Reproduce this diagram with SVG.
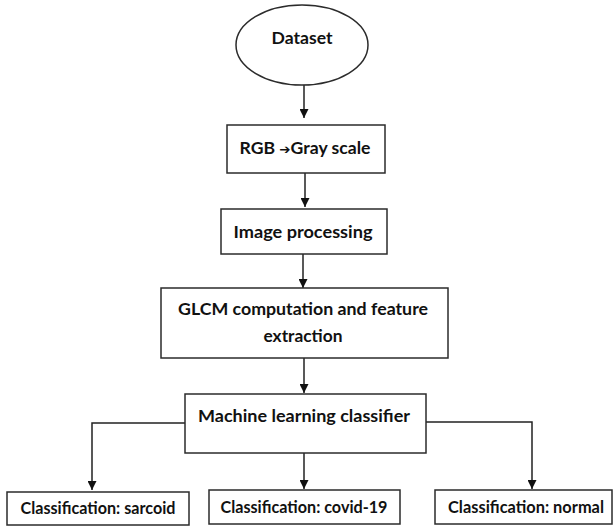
<svg xmlns="http://www.w3.org/2000/svg" width="614" height="528" viewBox="0 0 614 528">
<style>
.box{fill:#fff;stroke:#2b2b2b;stroke-width:1.5}
.t{font-family:Lato,"Open Sans","Liberation Sans",sans-serif;font-weight:bold;font-size:17px;fill:#111;text-anchor:middle}
.c{fill:none;stroke:#222;stroke-width:1.5}
</style>
<defs>
<marker id="ah" viewBox="0 0 10 10" refX="10" refY="5" markerWidth="9" markerHeight="9" markerUnits="userSpaceOnUse" orient="auto">
<path d="M0,0 L10,5 L0,10 Z" fill="#111"/>
</marker>
</defs>
<rect width="614" height="528" fill="#fff"/>
<g id="connectors">
<path class="c" d="M304,85 V118" marker-end="url(#ah)"/>
<path class="c" d="M305,173 V207" marker-end="url(#ah)"/>
<path class="c" d="M303,254 V288" marker-end="url(#ah)"/>
<path class="c" d="M304,358 V393" marker-end="url(#ah)"/>
<path class="c" d="M185,423 H92 V490" marker-end="url(#ah)"/>
<path class="c" d="M304,453 V489" marker-end="url(#ah)"/>
<path class="c" d="M426,422 H532 V489" marker-end="url(#ah)"/>
</g>
<g id="dataset">
<ellipse class="box" cx="302" cy="45" rx="66" ry="40"/>
<text class="t" x="302" y="44" textLength="61" lengthAdjust="spacingAndGlyphs">Dataset</text>
</g>
<g id="rgb">
<rect class="box" x="227" y="125" width="158" height="48"/>
<text class="t" x="305" y="154" textLength="131" lengthAdjust="spacingAndGlyphs">RGB <tspan font-family="DejaVu Sans" font-size="13">➔</tspan>Gray scale</text>
</g>
<g id="imageproc">
<rect class="box" x="221" y="209" width="166" height="45"/>
<text class="t" x="303" y="238" textLength="139" lengthAdjust="spacingAndGlyphs">Image processing</text>
</g>
<g id="glcm">
<rect class="box" x="161" y="288" width="287" height="70"/>
<text class="t" x="303" y="315" textLength="250" lengthAdjust="spacingAndGlyphs">GLCM computation and feature</text>
<text class="t" x="303" y="342" textLength="79" lengthAdjust="spacingAndGlyphs">extraction</text>
</g>
<g id="classifier">
<rect class="box" x="185" y="394" width="241" height="59"/>
<text class="t" x="304" y="422" textLength="212" lengthAdjust="spacingAndGlyphs">Machine learning classifier</text>
</g>
<g id="sarcoid">
<rect class="box" x="7" y="492" width="182" height="33"/>
<text class="t" x="98" y="514" textLength="155" lengthAdjust="spacingAndGlyphs">Classification: sarcoid</text>
</g>
<g id="covid">
<rect class="box" x="209" y="490" width="191" height="34"/>
<text class="t" x="304" y="513" textLength="167" lengthAdjust="spacingAndGlyphs">Classification: covid-19</text>
</g>
<g id="normal">
<rect class="box" x="435" y="490" width="177" height="34"/>
<text class="t" x="526" y="513" textLength="156" lengthAdjust="spacingAndGlyphs">Classification: normal</text>
</g>
</svg>
